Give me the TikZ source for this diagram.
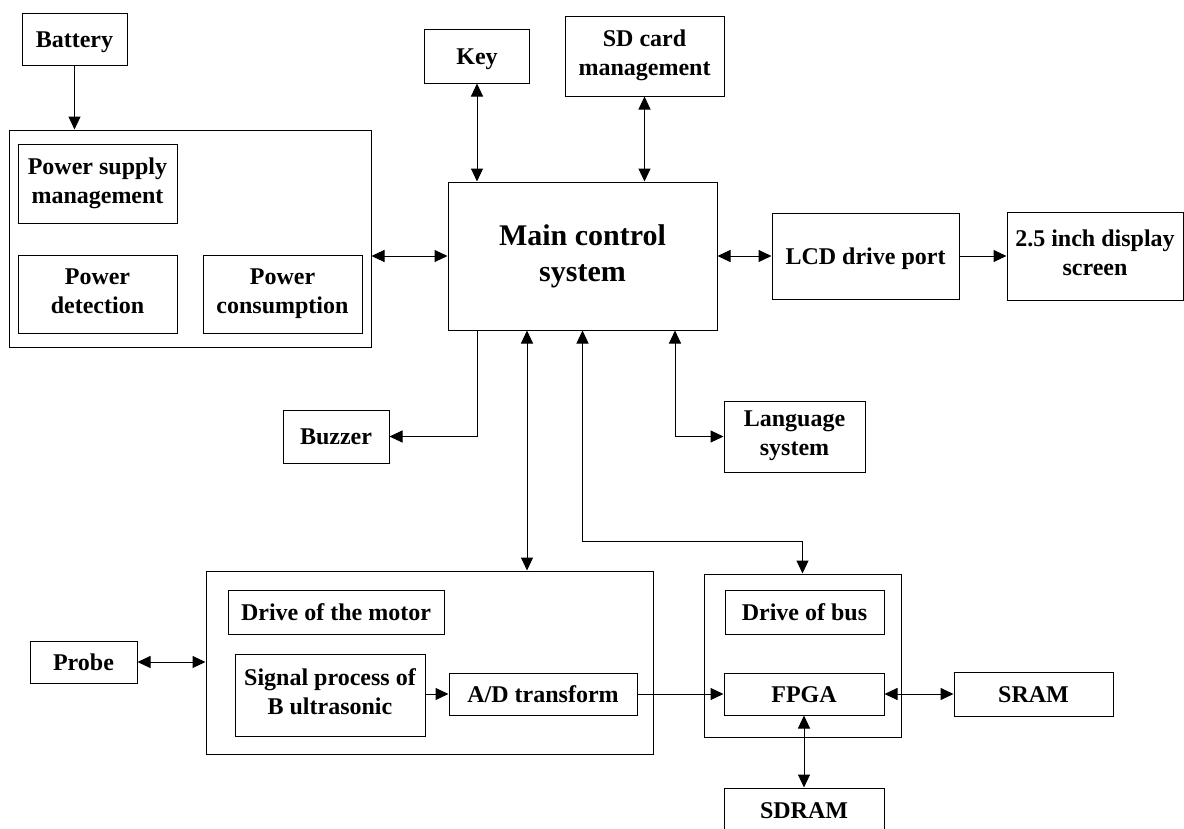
\documentclass[tikz,border=0pt]{standalone}
\usepackage{fontspec}
\setmainfont{Liberation Serif}
\usetikzlibrary{arrows.meta, positioning}

\newcommand{\blockstrut}{\rule[-6pt]{0pt}{28pt}}

\tikzset{
    block/.style={draw, line width=1pt, align=center, inner sep=2pt,
        font=\fontsize{24}{29}\selectfont\bfseries,
        execute at begin node=\blockstrut, execute at end node=\blockstrut},
    frame/.style={draw, line width=1pt, inner sep=0pt},
    link/.style={line width=1pt},
    >={Triangle[length=13pt, width=12pt]}
}

\begin{document}
\begin{tikzpicture}[x=1pt, y=-1pt]
    \useasboundingbox (0,0) rectangle (1184,828);

    % power part
    \node[block, minimum width=105pt, minimum height=52pt] (battery) at (74.5,39) {Battery};
    \node[frame, minimum width=362pt, minimum height=217pt] (powerbox) at (190,238.5) {};
    \node[block, minimum width=159pt, minimum height=79pt] (psupply) at (97.5,183.5) {Power supply\\management};
    \node[block, minimum width=159pt, minimum height=78pt] (pdetect) at (97.5,294) {Power\\detection};
    \node[block, minimum width=159pt, minimum height=78pt] (pconsume) at (282.5,294) {Power\\consumption};

    % main control and peripherals
    \node[block, minimum width=105pt, minimum height=54pt] (key) at (477,56) {Key};
    \node[block, minimum width=159pt, minimum height=80pt] (sdcard) at (644.5,56) {SD card\\management};
    \node[block, minimum width=269pt, minimum height=148pt,
        font=\fontsize{30}{36}\selectfont\bfseries] (main) at (582.5,256) {Main control\\system};
    \node[block, minimum width=187pt, minimum height=86pt] (lcd) at (865.5,256) {LCD drive port};
    \node[block, minimum width=176pt, minimum height=88pt] (display) at (1095,256) {2.5 inch display\\screen};
    \node[block, minimum width=106pt, minimum height=53pt] (buzzer) at (336,436.5) {Buzzer};
    \node[block, minimum width=141pt, minimum height=71pt] (language) at (794.5,436.5) {Language\\system};

    % ultrasonic part
    \node[block, minimum width=107pt, minimum height=42pt] (probe) at (83.5,662) {Probe};
    \node[frame, minimum width=447pt, minimum height=183pt] (motorbox) at (429.5,662.5) {};
    \node[block, minimum width=216pt, minimum height=44pt] (motor) at (336,612) {Drive of the motor};
    \node[block, minimum width=190pt, minimum height=82pt] (signal) at (330,695) {Signal process of\\B ultrasonic};
    \node[block, minimum width=188pt, minimum height=42pt] (adt) at (543,694) {A/D transform};

    % bus part
    \node[frame, minimum width=197pt, minimum height=163pt] (busbox) at (802.5,655.5) {};
    \node[block, minimum width=159pt, minimum height=44pt] (bus) at (804.5,612) {Drive of bus};
    \node[block, minimum width=160pt, minimum height=42pt] (fpga) at (804,694) {FPGA};
    \node[block, minimum width=159pt, minimum height=44pt] (sram) at (1033.5,694) {SRAM};
    \node[block, minimum width=160pt, minimum height=44pt] (sdram) at (804,810) {SDRAM};

    \coordinate (turn) at (700,541);

    % connections
    \draw[link, ->] (battery.south) -- (battery.south |- powerbox.north);
    \draw[link, <->] (powerbox.east |- main.west) -- (main.west);
    \draw[link, <->] (key.south) -- (key.south |- main.north);
    \draw[link, <->] (sdcard.south) -- (sdcard.south |- main.north);
    \draw[link, <->] (main.east) -- (lcd.west);
    \draw[link, ->] (lcd.east) -- (display.west);
    \draw[link, ->] (main.south -| key.south) |- (buzzer.east);
    \draw[link, <->] ([xshift=92.5pt]main.south) |- (language.west);
    \draw[link, <->] ([xshift=-55.5pt]main.south) -- ([xshift=-55.5pt]main.south |- motorbox.north);
    \draw[link, <->] (main.south) -- (main.south |- turn) -| (busbox.north);
    \draw[link, <->] (probe.east) -- (probe.east -| motorbox.west);
    \draw[link, ->] (signal.east |- adt.west) -- (adt.west);
    \draw[link, ->] (adt.east) -- (fpga.west);
    \draw[link, <->] (fpga.east) -- (fpga.east -| sram.west);
    \draw[link, <->] (fpga.south) -- (sdram.north);
\end{tikzpicture}
\end{document}
